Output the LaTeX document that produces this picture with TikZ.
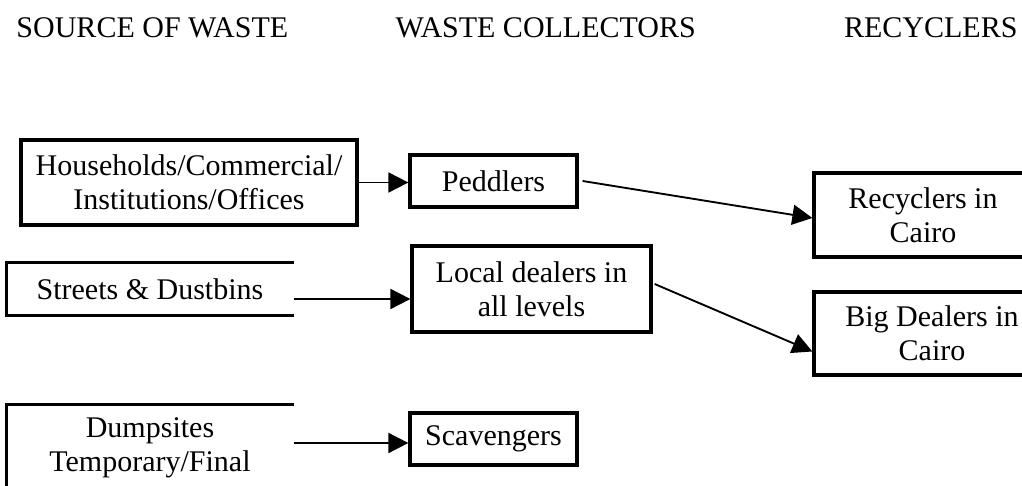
\documentclass[tikz,border=0pt]{standalone}
\usepackage{fontspec}
\setmainfont{Liberation Serif}
\usetikzlibrary{arrows.meta}
\begin{document}
\fontsize{12}{13.6}\selectfont
\begin{tikzpicture}[x=0.4pt,y=-0.4pt,
        box/.style={draw,line width=1.3pt,align=center,inner sep=0pt},
        openbox/.style={align=center,inner sep=0pt},
        flow/.style={line width=0.75pt,-{Triangle[length=8pt,width=8pt]}}]
        \clip (0,0) rectangle (1022,486);
        % column titles
        \node[anchor=base west,inner sep=0pt] (hsource) at (16,38) {SOURCE OF WASTE};
        \node[anchor=base west,inner sep=0pt] (hcollect) at (395,38) {WASTE COLLECTORS};
        \node[anchor=base east,inner sep=0pt] (hrecycle) at (1018,38) {RECYCLERS};
        % sources
        \node[box,minimum width=134.4pt,minimum height=34pt] (house) at (189,182.5) {Households/Commercial/\\Institutions/Offices};
        \node[openbox,minimum width=114.4pt,minimum height=20.8pt] (streets) at (150,289) {Streets \& Dustbins};
        \node[openbox,minimum width=114.4pt,minimum height=34.4pt] (dump) at (150,448) {Dumpsites\\Temporary/Final};
        \draw[line width=1.3pt] (streets.north east) -| (streets.south west) -- (streets.south east);
        \draw[line width=1.3pt] (dump.north east) -| (dump.south west) -- (dump.south east);
        % collectors
        \node[box,minimum width=66.8pt,minimum height=20.8pt] (peddler) at (493.5,181) {Peddlers};
        \node[box,minimum width=95.6pt,minimum height=34.4pt] (local) at (531.5,289) {Local dealers in\\all levels};
        \node[box,minimum width=66.8pt,minimum height=20.8pt] (scav) at (493.5,439) {Scavengers};
        % recyclers
        \node[box,minimum width=87.2pt,minimum height=33.6pt] (recycler) at (923,215) {Recyclers in\\Cairo};
        \node[box,minimum width=94.4pt,minimum height=33.2pt] (bigdeal) at (932,333.5) {Big Dealers in\\Cairo};
        % flows
        \draw[flow] (house.east) -- (house.east -| peddler.west);
        \draw[flow] ([yshift=-4pt]streets.east) -- ([yshift=-4pt]streets.east -| local.west);
        \draw[flow] ([yshift=-1.6pt]scav.west -| dump.east) -- ([yshift=-1.6pt]scav.west);
        \draw[flow] ([xshift=1.6pt]peddler.east) -- ([yshift=-1.2pt]recycler.west);
        \draw[flow] ([xshift=0.8pt,yshift=2pt]local.east) -- ([yshift=-7.2pt]bigdeal.west);
\end{tikzpicture}
\end{document}
